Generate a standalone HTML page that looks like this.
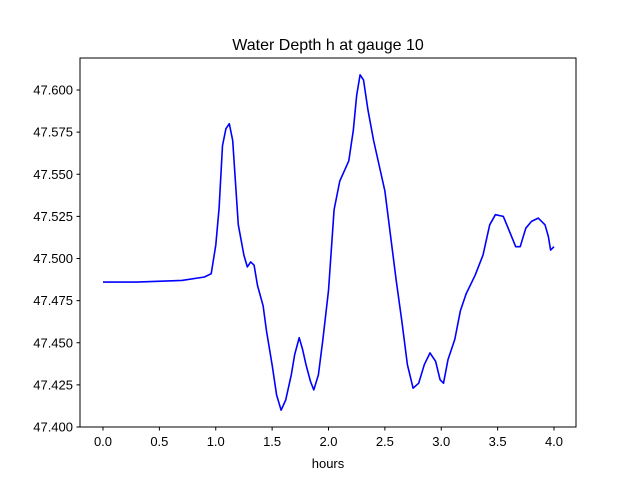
<!DOCTYPE html>
<html><head><meta charset="utf-8"><style>
html,body{margin:0;padding:0;background:#fff;}
svg{display:block;font-family:"Liberation Sans","DejaVu Sans",sans-serif;}
</style></head><body>
<svg id="chart" width="640" height="480" viewBox="0 0 640 480">
<rect width="640" height="480" fill="#fff"/>
<text x="328" y="50" text-anchor="middle" font-size="16">Water Depth h at gauge 10</text>
<g id="axes"></g>
<path id="line" fill="none" stroke="#0000ff" stroke-width="1.6" stroke-linejoin="round"/>
<rect x="80" y="58" width="496" height="369" fill="none" stroke="#000" stroke-width="1"/>
<text x="328" y="468" text-anchor="middle" font-size="13">hours</text>
</svg>
<script>
const hours = [0,0.3,0.7,0.9,0.96,1.0,1.03,1.06,1.09,1.12,1.15,1.2,1.25,1.28,1.31,1.34,1.37,1.42,1.45,1.5,1.54,1.58,1.62,1.67,1.70,1.74,1.77,1.80,1.84,1.87,1.91,1.95,2.0,2.05,2.1,2.14,2.18,2.22,2.25,2.28,2.31,2.35,2.4,2.5,2.6,2.65,2.7,2.75,2.8,2.85,2.9,2.95,2.99,3.02,3.06,3.12,3.17,3.22,3.3,3.37,3.43,3.48,3.55,3.6,3.66,3.7,3.75,3.8,3.86,3.92,3.95,3.97,4.0];
const depth = [47.486,47.486,47.487,47.489,47.491,47.508,47.530,47.567,47.577,47.580,47.570,47.520,47.502,47.495,47.498,47.496,47.484,47.472,47.457,47.437,47.419,47.410,47.416,47.431,47.443,47.453,47.446,47.437,47.427,47.422,47.431,47.452,47.481,47.529,47.546,47.552,47.558,47.576,47.597,47.609,47.606,47.588,47.570,47.540,47.487,47.463,47.437,47.423,47.426,47.437,47.444,47.439,47.428,47.426,47.440,47.452,47.469,47.479,47.490,47.502,47.520,47.526,47.525,47.517,47.507,47.507,47.518,47.522,47.524,47.520,47.513,47.505,47.507];
const xTicks = [0,0.5,1,1.5,2,2.5,3,3.5,4];
const xTickLabels = ["0.0","0.5","1.0","1.5","2.0","2.5","3.0","3.5","4.0"];
const yTicks = [47.400,47.425,47.450,47.475,47.500,47.525,47.550,47.575,47.600];
const yTickLabels = ["47.400","47.425","47.450","47.475","47.500","47.525","47.550","47.575","47.600"];

const X = h => 103 + h * 112.75;
const Y = v => 427 - (v - 47.4) / 0.025 * 42.125;
const NS = "http://www.w3.org/2000/svg";
const axes = document.getElementById('axes');
function mk(tag, attrs, txt){const e=document.createElementNS(NS,tag);for(const k in attrs)e.setAttribute(k,attrs[k]);if(txt!=null)e.textContent=txt;axes.appendChild(e);return e;}
xTicks.forEach((t,i)=>{
  const x=X(t);
  const l=mk('line',{x1:x,x2:x,y1:427,y2:430.5,stroke:'#000','stroke-width':1});
  
  
  const tx=mk('text',{x:x,y:446,'text-anchor':'middle','font-size':13},xTickLabels[i]);
  
  
});
yTicks.forEach((t,i)=>{
  const y=Y(t);
  const l=mk('line',{x1:76.5,x2:80,y1:y,y2:y,stroke:'#000','stroke-width':1});
  
  
  const tx=mk('text',{x:73,y:y+4.5,'text-anchor':'end','font-size':13},yTickLabels[i]);
  
  
});
document.getElementById('line').setAttribute('d', hours.map((h,i)=>(i?'L':'M')+X(h).toFixed(1)+','+Y(depth[i]).toFixed(1)).join(''));
</script>
</body></html>
